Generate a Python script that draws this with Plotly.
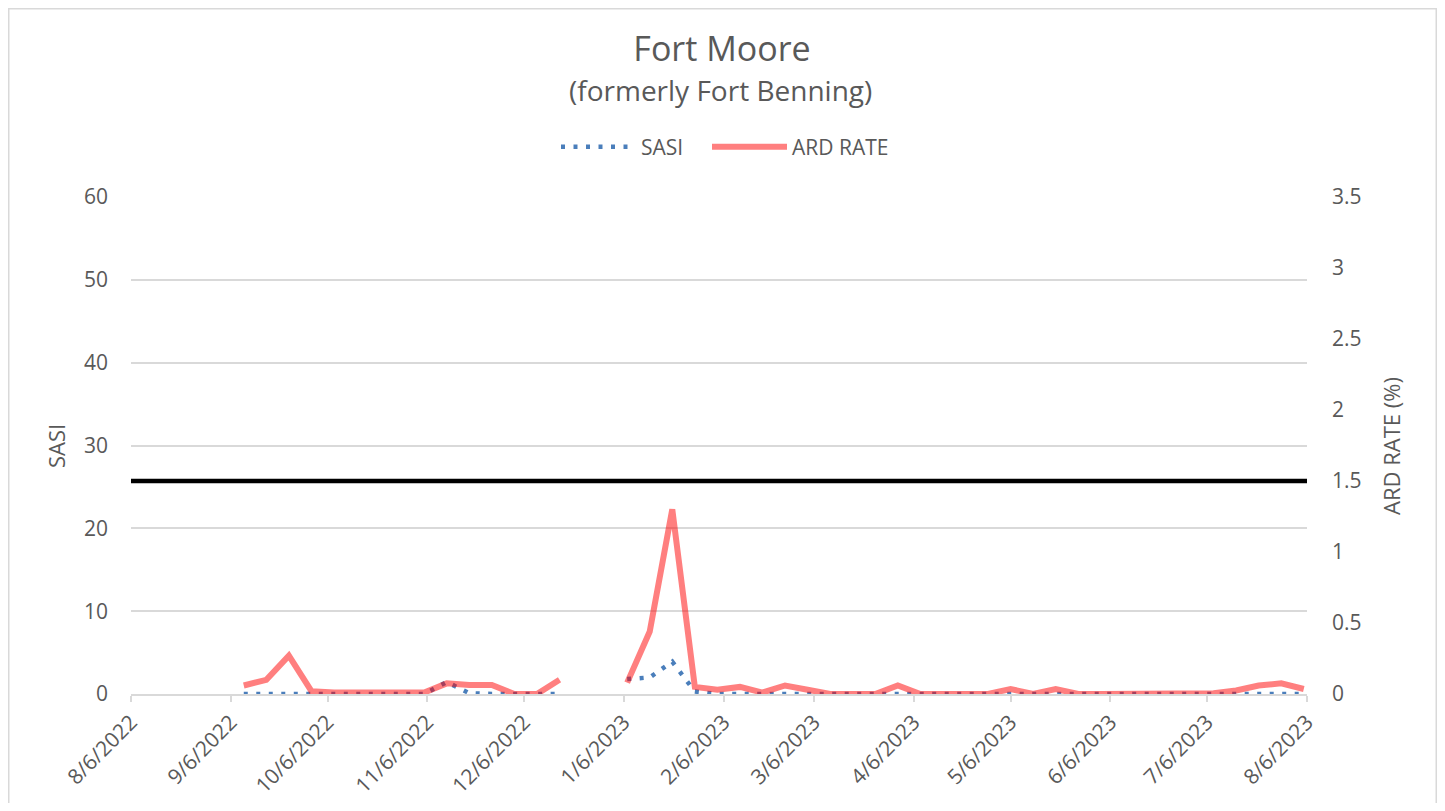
import plotly.graph_objects as go
from datetime import datetime

# ---------------- data ----------------
WEEKS = [
    "2022-09-10", "2022-09-17", "2022-09-24", "2022-10-01", "2022-10-08", "2022-10-15",
    "2022-10-22", "2022-10-29", "2022-11-05", "2022-11-12", "2022-11-19", "2022-11-26",
    "2022-12-03", "2022-12-10", "2022-12-17", "2022-12-24", "2022-12-31", "2023-01-07",
    "2023-01-14", "2023-01-21", "2023-01-28", "2023-02-04", "2023-02-11", "2023-02-18",
    "2023-02-25", "2023-03-04", "2023-03-11", "2023-03-18", "2023-03-25", "2023-04-01",
    "2023-04-08", "2023-04-15", "2023-04-22", "2023-04-29", "2023-05-06", "2023-05-13",
    "2023-05-20", "2023-05-27", "2023-06-03", "2023-06-10", "2023-06-17", "2023-06-24",
    "2023-07-01", "2023-07-08", "2023-07-15", "2023-07-22", "2023-07-29", "2023-08-05",
]

SASI = [
    0, 0, 0, 0, 0, 0,
    0, 0, 0, 1.45, 0.1, 0,
    0, 0, 0, None, None, 1.8,
    2.0, 3.9, 0.3, 0, 0, 0,
    0, 0, 0, 0, 0, 0,
    0, 0, 0, 0, 0, 0,
    0, 0, 0, 0, 0, 0,
    0, 0, 0, 0, 0, 0,
]

ARD_RATE = [
    0.06, 0.10, 0.27, 0.02, 0.01, 0.01,
    0.02, 0.01, 0.01, 0.075, 0.063, 0.063,
    0.0, 0.0, 0.10, None, None, 0.08,
    0.44, 1.30, 0.05, 0.03, 0.05, 0.01,
    0.06, 0.03, 0.0, 0.0, 0.0, 0.06,
    0.0, 0.0, 0.0, 0.0, 0.035, 0.0,
    0.035, 0.0, 0.0, 0.0, 0.0, 0.0,
    0.0, 0.005, 0.025, 0.06, 0.075, 0.035,
]

THRESHOLD = 1.5  # ARD RATE (%) threshold line

TICK_LABELS = [
    "8/6/2022", "9/6/2022", "10/6/2022", "11/6/2022", "12/6/2022", "1/6/2023",
    "2/6/2023", "3/6/2023", "4/6/2023", "5/6/2023", "6/6/2023", "7/6/2023", "8/6/2023",
]
TICK_DATES = [datetime.strptime(t, "%m/%d/%Y") for t in TICK_LABELS]

# ---------------- styling ----------------
TEXT = "#595959"
GRID = "#D9D9D9"
FONT = "Open Sans"

# page geometry (the browser adds an 8px body margin)
OFF = 8
PAGE_W, PAGE_H = 1445, 811
W, H = PAGE_W - 2 * OFF, PAGE_H - 2 * OFF
PL, PR, PT, PB = 131, 1307, 197, 694          # plot area in page pixels
L, T = PL - OFF, PT - OFF
R, B = W - (PR - OFF), H - (PB - OFF)
PW, PH = PR - PL, PB - PT


def px_x(px):
    return (px - PL) / PW


def px_y(py):
    return (PB - py) / PH


fig = go.Figure()

fig.add_trace(go.Scatter(
    x=WEEKS, y=SASI, name="SASI", mode="lines",
    line=dict(color="#4A7EBB", width=4.5, dash="4px,8.5px"),
    connectgaps=False, yaxis="y", legend="legend",
))
fig.add_trace(go.Scatter(
    x=WEEKS, y=ARD_RATE, name="ARD RATE", mode="lines",
    line=dict(color="rgba(255,0,0,0.5)", width=6),
    connectgaps=False, yaxis="y2", legend="legend2",
))
fig.add_trace(go.Scatter(
    x=[TICK_DATES[0], TICK_DATES[-1]], y=[THRESHOLD, THRESHOLD],
    mode="lines", line=dict(color="black", width=4.5),
    showlegend=False, yaxis="y2", hoverinfo="skip",
))

LEGEND_STYLE = dict(
    orientation="h", xanchor="left", y=px_y(147), yanchor="middle",
    font=dict(size=21, color=TEXT), bgcolor="rgba(0,0,0,0)", itemwidth=75,
)

fig.update_layout(
    width=W, height=H,
    margin=dict(l=L, r=R, t=T, b=B, autoexpand=False),
    paper_bgcolor="white", plot_bgcolor="white",
    font=dict(family=FONT, color=TEXT, size=21),
    title=dict(
        text="Fort Moore", x=(722 - OFF) / W, xanchor="center", xref="container",
        y=1 - (49 - OFF) / H, yanchor="middle", yref="container",
        font=dict(size=34, color=TEXT, family=FONT),
    ),
    showlegend=True,
    legend=dict(x=px_x(556), **LEGEND_STYLE),
    legend2=dict(x=px_x(707), **LEGEND_STYLE),
    xaxis=dict(
        type="date",
        range=[TICK_DATES[0], TICK_DATES[-1]],
        tickvals=TICK_DATES, ticktext=TICK_LABELS,
        tickangle=-45, tickfont=dict(size=21, color=TEXT),
        showline=True, linecolor=GRID, linewidth=1.5,
        ticks="outside", ticklen=6, tickcolor=GRID, tickwidth=1.5,
        showgrid=False, zeroline=False, automargin=False,
    ),
    yaxis=dict(
        range=[0, 60], dtick=10, tick0=0,
        showgrid=True, gridcolor=GRID, gridwidth=1.5,
        zeroline=False, showline=False, ticks="",
        tickfont=dict(size=21, color=TEXT), ticklabelstandoff=22,
        automargin=False,
    ),
    yaxis2=dict(
        range=[0, 3.5], dtick=0.5, tick0=0,
        overlaying="y", side="right",
        showgrid=False, zeroline=False, showline=False, ticks="",
        tickfont=dict(size=21, color=TEXT), ticklabelstandoff=24,
        automargin=False,
    ),
    annotations=[
        dict(text="(formerly Fort Benning)", xref="paper", yref="paper",
             x=px_x(720), y=px_y(90), xanchor="center", yanchor="middle",
             showarrow=False, font=dict(size=28, color=TEXT, family=FONT)),
        dict(text="SASI", xref="paper", yref="paper",
             x=px_x(56), y=px_y(446), xanchor="center", yanchor="middle",
             textangle=-90, showarrow=False, font=dict(size=22, color=TEXT)),
        dict(text="ARD RATE (%)", xref="paper", yref="paper",
             x=px_x(1391), y=px_y(446), xanchor="center", yanchor="middle",
             textangle=-90, showarrow=False, font=dict(size=22, color=TEXT)),
    ],
    shapes=[
        dict(type="rect", xref="paper", yref="paper",
             x0=px_x(OFF + 0.75), x1=px_x(PAGE_W - OFF - 0.75),
             y0=px_y(PAGE_H), y1=px_y(OFF + 0.75),
             line=dict(color=GRID, width=1.5), fillcolor="rgba(0,0,0,0)",
             layer="below"),
    ],
)

fig.write_html("out.html")
